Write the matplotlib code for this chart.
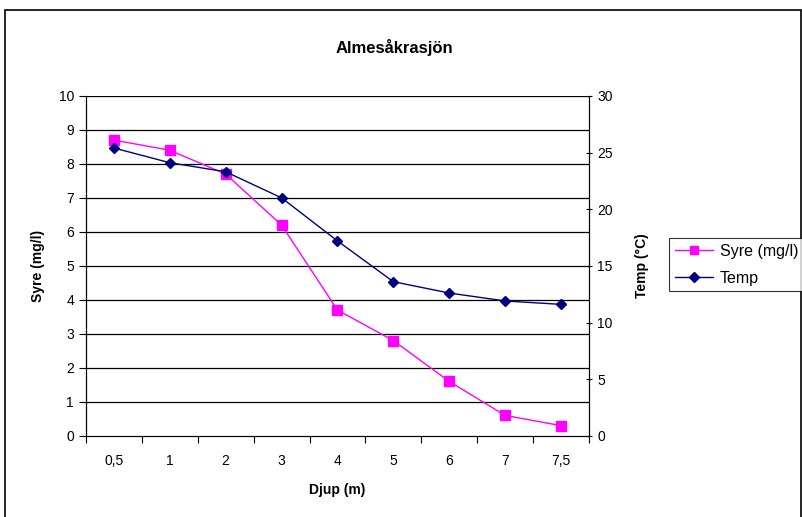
import matplotlib.pyplot as plt
from matplotlib.patches import Rectangle
from matplotlib.lines import Line2D
import numpy as np

plt.rcParams['font.family'] = ['Liberation Sans', 'DejaVu Sans']

depths = ['0,5', '1', '2', '3', '4', '5', '6', '7', '7,5']
syre = [8.7, 8.4, 7.7, 6.2, 3.7, 2.8, 1.6, 0.6, 0.3]
temp = [25.4, 24.1, 23.3, 21.0, 17.2, 13.6, 12.6, 11.9, 11.6]

fig = plt.figure(figsize=(8.03, 5.17), dpi=100)
ax = fig.add_axes([0.107, 0.157, 0.6265, 0.6576])
ax2 = ax.twinx()

x = np.arange(len(depths))

# grid lines at the left axis integers
ax.set_ylim(0, 10)
ax.set_yticks(range(0, 11))
for v in range(1, 11):
    ax.axhline(v, color='black', lw=0.9, zorder=1)

ax.plot(x, syre, color='#FF00FF', lw=1, marker='s', ms=7, zorder=3)
ax2.plot(x, temp, color='#000080', lw=1, marker='D', ms=5, zorder=3)
ax2.set_ylim(0, 30)
ax2.set_yticks(range(0, 31, 5))

ax.set_xlim(-0.5, len(depths) - 0.5)
ax.set_xticks(np.arange(-0.5, len(depths)))
ax.set_xticklabels([])
ax.set_xticks(x, minor=True)
ax.set_xticklabels(depths, minor=True)
ax.tick_params(axis='x', which='minor', length=0, labelsize=10, pad=13)
ax.tick_params(axis='x', which='major', length=5, direction='out')
ax.tick_params(axis='y', labelsize=10, length=5, direction='out')
ax2.tick_params(axis='y', labelsize=10, length=5, direction='inout')

ax.spines['top'].set_visible(False)
ax2.spines['top'].set_visible(False)

ax.set_xlabel('Djup (m)', fontsize=10, fontweight='bold', labelpad=11)
ax.set_ylabel('Syre (mg/l)', fontsize=10, fontweight='bold', labelpad=10)
ax2.set_ylabel('Temp (\u00b0C)', fontsize=10, fontweight='bold', labelpad=16)

fig.text(394 / 803, 1 - 47 / 517, 'Almesåkrasjön', ha='center', va='center',
         fontsize=12, fontweight='bold')

handles = [
    Line2D([], [], color='#FF00FF', lw=1, marker='s', ms=6),
    Line2D([], [], color='#000080', lw=1, marker='D', ms=5),
]
leg = fig.legend(handles, ['Syre (mg/l)', 'Temp'], loc='upper left',
                 bbox_to_anchor=(669 / 803, 1 - 238 / 517), fontsize=11.5,
                 frameon=True, fancybox=False, edgecolor='black',
                 handlelength=2.4, handletextpad=0.45, borderpad=0.35,
                 borderaxespad=0, labelspacing=0.75)
leg.get_frame().set_linewidth(0.8)

fig.patches.append(Rectangle((5 / 803, -0.01), 796 / 803, 1 - 10 / 517 + 0.01,
                             transform=fig.transFigure, fill=False,
                             edgecolor='black', lw=1.2))

fig.savefig('out.png', dpi=100)
